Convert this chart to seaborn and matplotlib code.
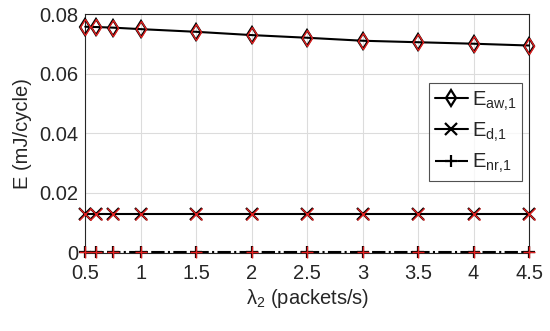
import pandas as pd
import numpy as np
import seaborn as sns
import matplotlib
matplotlib.use("Agg")
import matplotlib.pyplot as plt

# data
lam2 = [0.5, 0.6, 0.75, 1, 1.5, 2, 2.5, 3, 3.5, 4, 4.5]
e_aw = [0.0758, 0.0757, 0.0755, 0.0750, 0.0741, 0.0730, 0.0721, 0.0711, 0.0706, 0.0701, 0.0695]
e_d = [0.0130] * len(lam2)
e_nr = [0.0001] * len(lam2)

names = ['$E_{aw{,}1}$', '$E_{d{,}1}$', '$E_{nr{,}1}$']
markers = ['d', 'x', '+']
styles = ['-', '-', '-.']

df = pd.DataFrame({'x': lam2 * 3,
                   'y': e_aw + e_d + e_nr,
                   's': sum([[n] * len(lam2) for n in names], [])})

sns.set_style("whitegrid")
plt.rcParams['font.family'] = ['Liberation Sans', 'DejaVu Sans']
plt.rcParams['mathtext.default'] = 'regular'

fig = plt.figure(figsize=(5.5, 3.31), dpi=100)
ax = fig.add_axes([0.155, 0.237, 0.807, 0.72])

for n, m, ls in zip(names, markers, styles):
    sub = df[df.s == n]
    # black line + markers (legend entry)
    sns.lineplot(data=sub, x='x', y='y', ax=ax, color='black', linestyle=ls,
                 marker=m, markersize=8.5, markeredgewidth=1.6,
                 markerfacecolor='none', markeredgecolor='black', label=n, lw=1.5,
                 clip_on=False, zorder=4)
    # red overlay on markers
    ax.plot(sub.x, sub.y, linestyle='none', marker=m, markersize=8.5,
            markerfacecolor='none', markeredgecolor='#e02020', markeredgewidth=1.0,
            zorder=5, clip_on=False)

ax.set_xlim(0.5, 4.5)
ax.set_ylim(0, 0.08)
ax.set_xticks([0.5, 1, 1.5, 2, 2.5, 3, 3.5, 4, 4.5])
ax.set_xticklabels(['0.5', '1', '1.5', '2', '2.5', '3', '3.5', '4', '4.5'])
ax.set_yticks([0, 0.02, 0.04, 0.06, 0.08])
ax.set_yticklabels(['0', '0.02', '0.04', '0.06', '0.08'])
ax.tick_params(labelsize=14.5, colors='#262626', direction='in', length=4, width=0.8)
ax.tick_params(axis='x', pad=8)
ax.tick_params(axis='y', pad=5)
ax.grid(True, color='#dcdcdc', lw=0.8)
for sp in ax.spines.values():
    sp.set_color('#262626')
    sp.set_linewidth(0.8)
ax.set_xlabel('$\\lambda_2$ (packets/s)', fontsize=14.5, color='#262626', labelpad=3)
ax.set_ylabel('E (mJ/cycle)', fontsize=14.5, color='#262626', labelpad=5)

leg = ax.legend(loc='upper right', bbox_to_anchor=(0.985, 0.71), fontsize=14.5,
                frameon=True, fancybox=False, edgecolor='#262626',
                handlelength=1.6, handletextpad=0.2, borderpad=0.3, labelspacing=0.4,
                borderaxespad=0)
leg.get_frame().set_linewidth(0.8)

fig.savefig('out.png', dpi=100)
